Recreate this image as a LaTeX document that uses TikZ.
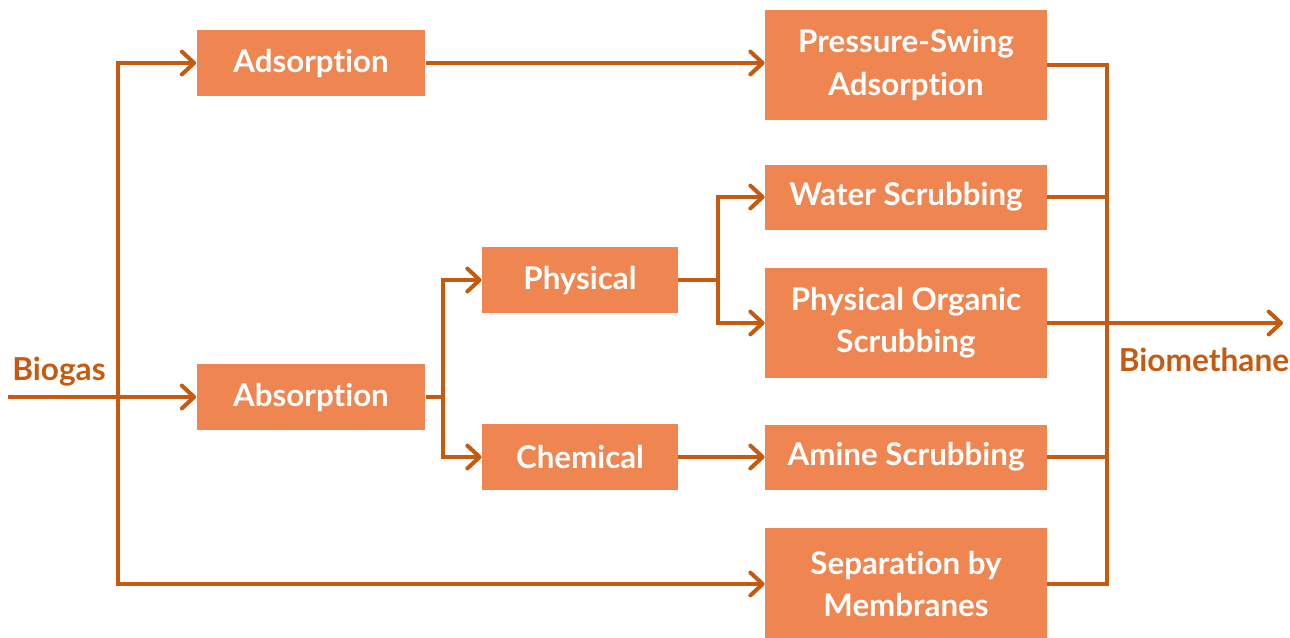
\documentclass[tikz,border=0pt]{standalone}
\usepackage{fontspec}
\setmainfont{Lato}[Ligatures=NoCommon]
\usetikzlibrary{positioning, arrows.meta}
\definecolor{boxfill}{HTML}{EF8550}
\definecolor{flowline}{HTML}{C55A11}

\begin{document}
\begin{tikzpicture}[x=0.02cm, y=-0.02cm,
    proc/.style={fill=boxfill, text=white, font=\fontsize{17.8}{24}\selectfont\bfseries, align=center, inner sep=0pt},
    procA/.style={proc, minimum width=4.58cm, minimum height=1.32cm},
    procB/.style={proc, minimum width=3.92cm, minimum height=1.32cm},
    procC/.style={proc, minimum width=5.64cm, minimum height=1.3cm},
    tall/.style={minimum height=2.2cm},
    flow/.style={draw=flowline, line width=2.3pt},
    arr/.style={flow, -{Straight Barb[round, length=7pt, width=13pt]}},
    tag/.style={text=flowline, font=\fontsize{18}{20}\selectfont\bfseries}]
    \useasboundingbox (0,0) rectangle (1290,637);

    \node (adsorp) [procA] at (311,63) {Adsorption};
    \node (absorp) [procA] at (311,397) {Absorption};
    \node (phys) [procB] at (580,280) {Physical};
    \node (chem) [procB] at (580,457) {Chemical};
    \node (psa) [procC, tall] at (906,65) {Pressure-Swing\\Adsorption};
    \node (water) [procC] at (906,197) {Water Scrubbing};
    \node (org) [procC, tall] at (906,323) {Physical Organic\\Scrubbing};
    \node (amine) [procC] at (906,457) {Amine Scrubbing};
    \node (memb) [procC, minimum height=2.24cm] at (906,584) {Separation by\\Membranes};

    \node (biogas) [tag] at (59,372) {Biogas};
    \node (biometh) [tag] at (1204,360) {Biomethane};

    \coordinate (in) at (8,397);
    \coordinate (split) at (118,397);
    \coordinate (absfork) at (443,397);
    \coordinate (physfork) at (718,280);
    \coordinate (join) at (1107,323);
    \coordinate (out) at (1283,323);

    % biogas feed
    \draw [flow] (in) -- (split);
    \draw [arr] (split) -- (absorp.west);
    \draw [arr] (split) |- (adsorp.west);
    \draw [arr] (split) |- (memb.west);
    \draw [arr] (adsorp.east) -- (adsorp.east -| psa.west);

    % absorption branches
    \draw [flow] (absorp.east) -- (absfork);
    \draw [arr] (absfork) |- (phys.west);
    \draw [arr] (absfork) |- (chem.west);
    \draw [flow] (phys.east) -- (physfork);
    \draw [arr] (physfork) |- (water.west);
    \draw [arr] (physfork) |- (org.west);
    \draw [arr] (chem) -- (amine);

    % collect to biomethane
    \draw [flow] (psa.east) -| (join);
    \draw [flow] (memb.east) -| (join);
    \draw [flow] (water.east) -- (water.east -| join);
    \draw [flow] (amine.east) -- (amine.east -| join);
    \draw [arr] (org.east) -- (out);
\end{tikzpicture}
\end{document}
